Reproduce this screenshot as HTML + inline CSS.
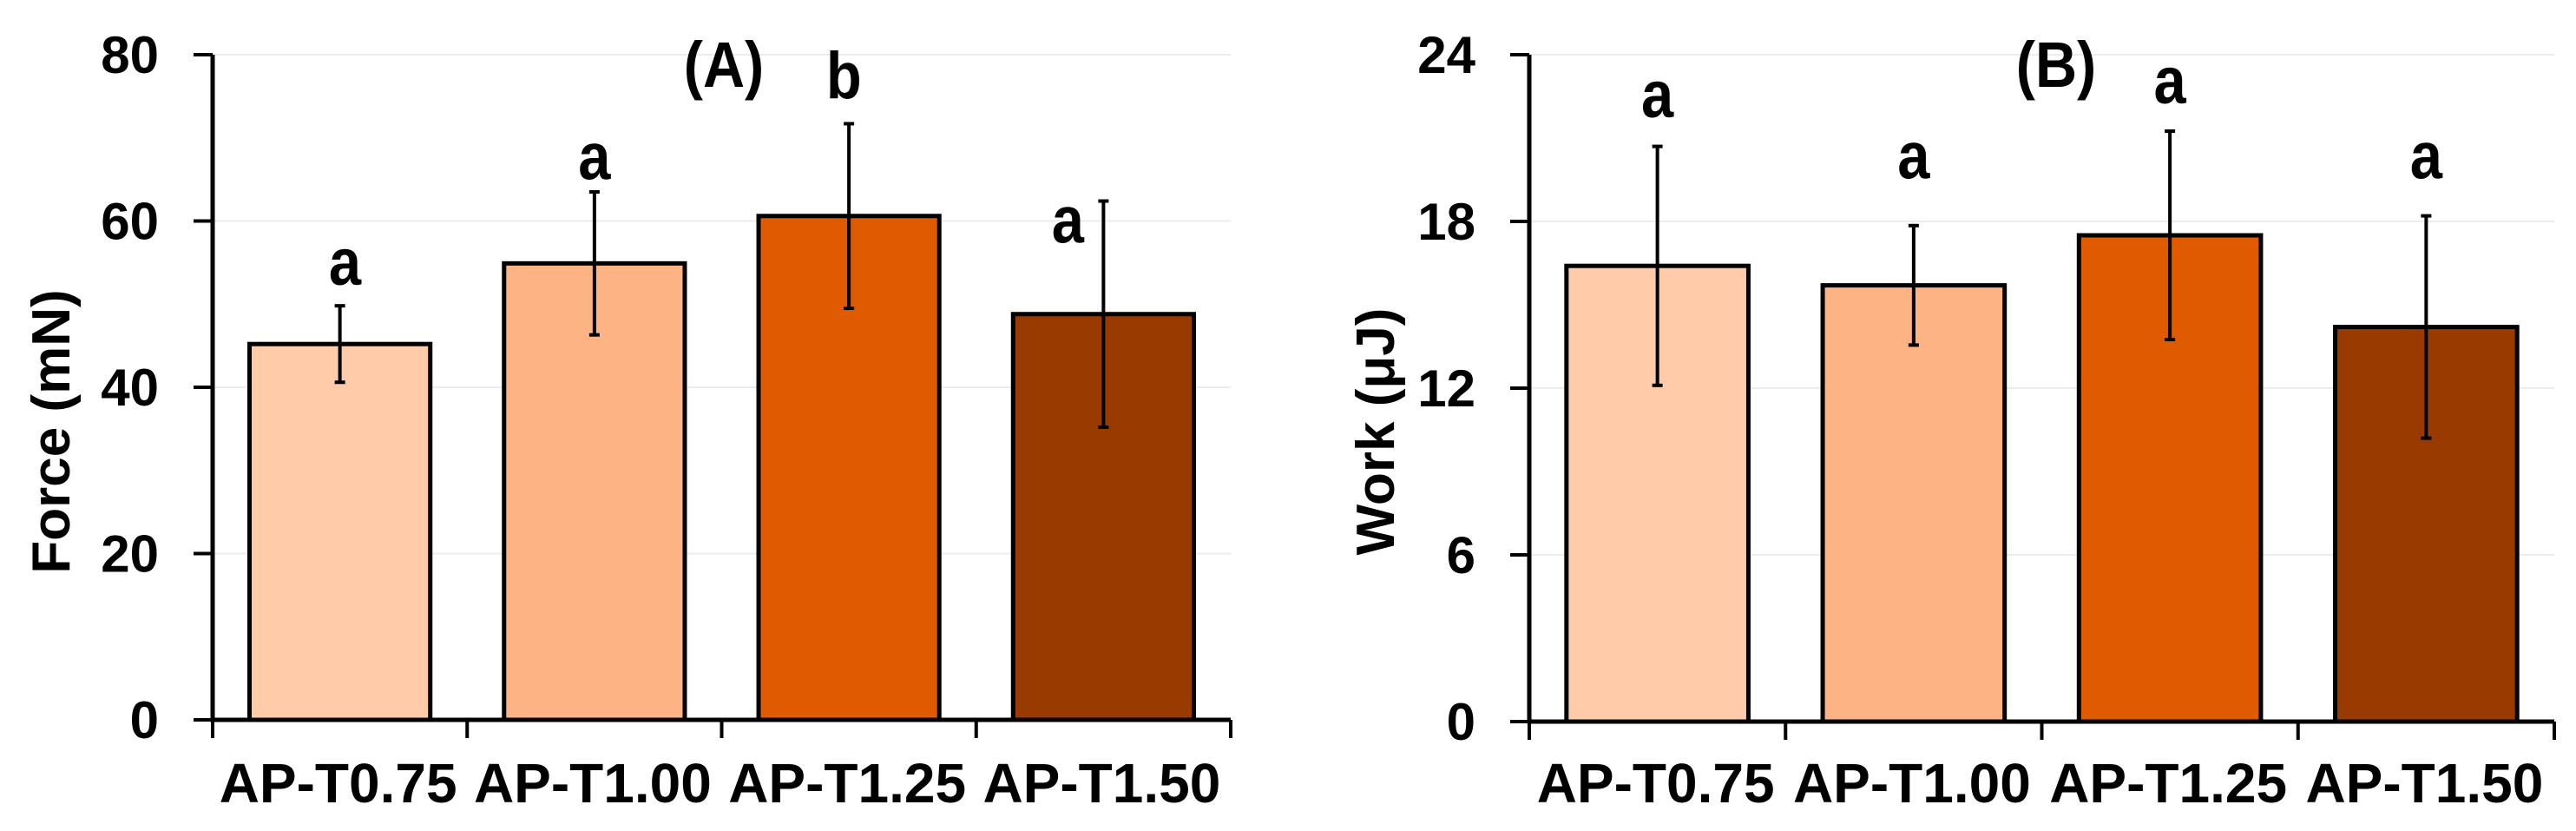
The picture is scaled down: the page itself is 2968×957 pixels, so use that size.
<!DOCTYPE html>
<html><head><meta charset="utf-8"><style>
html,body{margin:0;padding:0;background:#fff;}
svg{display:block;font-family:"Liberation Sans",Arial,sans-serif;font-weight:bold;}
</style></head><body>
<svg id="chart" width="2968" height="957" viewBox="0 0 2968 957" xmlns="http://www.w3.org/2000/svg"></svg>
<script>
const categories = ["AP-T0.75","AP-T1.00","AP-T1.25","AP-T1.50"];
const colors = ["#FFCBA9","#FDB384","#E05A00","#993A00"];
const forceValues = [45.2, 54.9, 60.6, 48.8];
const forceErrors = [4.6, 8.6, 11.1, 13.6];
const forceLetters = ["a","a","b","a"];
const forceLetterValues = [52.3, 65.0, 74.8, 57.4];
const forceLetterOffsets = [0.02, 0, -0.02, -0.14];
const forceTicks = [0,20,40,60,80];
const workValues = [16.4, 15.7, 17.5, 14.2];
const workErrors = [4.3, 2.15, 3.75, 4.0];
const workLetters = ["a","a","a","a"];
const workLetterValues = [21.75, 19.55, 22.25, 19.55];
const workLetterOffsets = [0, 0, 0, 0];
const workTicks = [0,6,12,18,24];

const NS = "http://www.w3.org/2000/svg";
const svg = document.getElementById('chart');
function mk(tag, attrs, parent){
  const e = document.createElementNS(NS, tag);
  for (const k in attrs) e.setAttribute(k, attrs[k]);
  (parent||svg).appendChild(e);
  return e;
}
function ctext(parent, x, y, size, sx){
  return mk('text', {x:0, y:0, 'text-anchor':'middle', 'font-size':size, transform:`translate(${x} ${y}) scale(${sx} 1)`}, parent);
}
function panel(cfg){
  const g = mk('g', {});
  
  
  const x0 = cfg.x0, x1 = cfg.x1, y0 = cfg.y0, yTop = cfg.yTop;
  const maxV = cfg.ticks[cfg.ticks.length-1];
  const yS = v => y0 - (v/maxV)*(y0-yTop);
  const bw = (x1-x0)/categories.length;
  const xC = i => x0 + bw*(i+0.5);
  cfg.ticks.forEach(t => {
    if (t===0) return;
    const l = mk('line', {x1:x0, x2:x1, y1:yS(t), y2:yS(t), stroke:'#ececec', 'stroke-width':2}, g);
    
    
  });
  cfg.values.forEach((v,i) => {
    const w = bw*0.71;
    const r = mk('rect', {x:xC(i)-w/2, y:yS(v), width:w, height:y0-yS(v), fill:colors[i], stroke:'#000', 'stroke-width':5}, g);
    
    
  });
  cfg.values.forEach((v,i) => {
    const e = cfg.errors[i];
    const eg = mk('g', {stroke:'#000', 'stroke-width':4}, g);
    
    
    mk('line', {x1:xC(i), x2:xC(i), y1:yS(v+e), y2:yS(v-e)}, eg);
    mk('line', {x1:xC(i)-6, x2:xC(i)+6, y1:yS(v+e), y2:yS(v+e)}, eg);
    mk('line', {x1:xC(i)-6, x2:xC(i)+6, y1:yS(v-e), y2:yS(v-e)}, eg);
  });
  cfg.letters.forEach((s,i) => {
    const t = ctext(g, xC(i)+cfg.letterOffsets[i]*bw, yS(cfg.letterValues[i]), 76, 0.88);
    t.textContent = s;
    
    
  });
  const ax = mk('path', {d:`M${x0} ${yTop} V${y0} H${x1}`, stroke:'#000', 'stroke-width':5, fill:'none'}, g);
  
  
  for (let i=0;i<=categories.length;i++){
    const xx = x0 + bw*i;
    mk('line', {x1:xx, x2:xx, y1:y0, y2:y0+21, stroke:'#000', 'stroke-width':4}, g);
  }
  cfg.ticks.forEach(t => {
    mk('line', {x1:x0-22, x2:x0, y1:yS(t), y2:yS(t), stroke:'#000', 'stroke-width':4}, g);
    const lb = mk('text', {x:x0-62, y:yS(t)+21, 'text-anchor':'end', 'font-size':60}, g);
    lb.textContent = t;
    
    
  });
  categories.forEach((c,i) => {
    const lb = ctext(g, xC(i)-2, 924, 64, 1);
    lb.textContent = c;
    
    
  });
  const yt = mk('text', {x:cfg.titleX, y:497, 'text-anchor':'middle', 'font-size':62, transform:`rotate(-90 ${cfg.titleX} 497)`}, g);
  yt.textContent = cfg.yTitle;
  yt.setAttribute('xml:space','preserve');
  
  
  const pt = ctext(g, cfg.panelX, 100, 74, 0.9);
  pt.textContent = cfg.panelLabel;
  
  
}
panel({name:'force-panel', x0:245, x1:1418, y0:829, yTop:63, ticks:forceTicks, values:forceValues, errors:forceErrors,
  letters:forceLetters, letterValues:forceLetterValues, letterOffsets:forceLetterOffsets, yTitle:'Force  (mN)', titleX:80, panelX:834, panelLabel:'(A)'});
panel({name:'work-panel', x0:1762, x1:2943, y0:831, yTop:63, ticks:workTicks, values:workValues, errors:workErrors,
  letters:workLetters, letterValues:workLetterValues, letterOffsets:workLetterOffsets, yTitle:'Work  (μJ)', titleX:1606, panelX:2369, panelLabel:'(B)'});
</script>
</body></html>
